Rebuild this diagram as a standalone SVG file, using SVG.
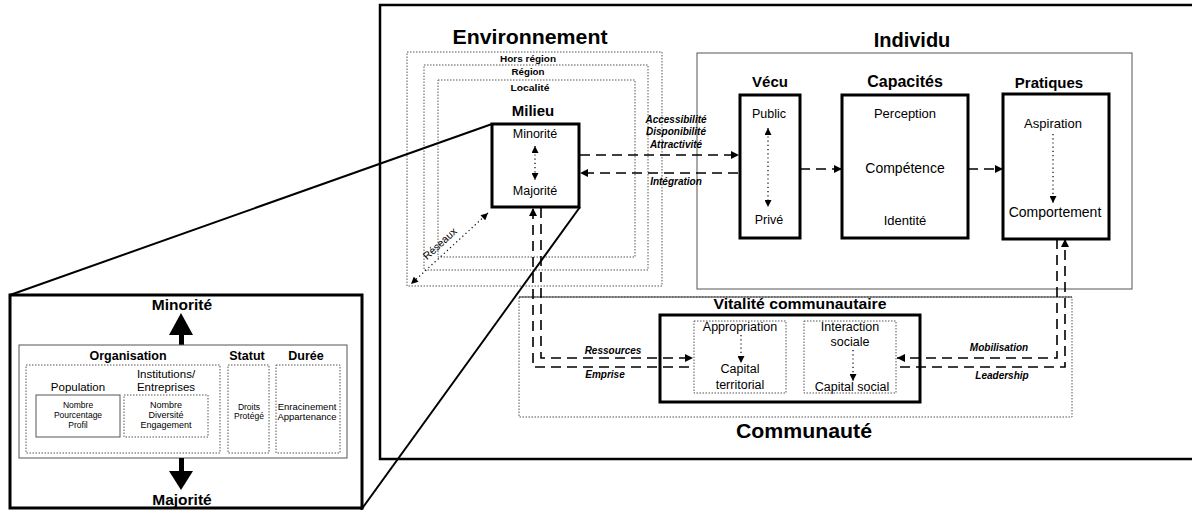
<svg xmlns="http://www.w3.org/2000/svg" width="1192" height="510" viewBox="0 0 1192 510">
<defs>
<style>
text{font-family:"Liberation Sans",Arial,sans-serif;fill:#000;text-anchor:middle}
.t20{font-size:20px;font-weight:bold}
.t15{font-size:15px;font-weight:bold}
.sm{font-size:9.5px;font-weight:bold}
.lab{font-size:10px;font-weight:bold;font-style:italic}
.r13{font-size:13px}
.r12{font-size:12.5px}
.r9{font-size:9px}
.dot{fill:none;stroke:#555;stroke-width:1;stroke-dasharray:1.5 1.5}
.thin{fill:none;stroke:#555;stroke-width:1}
.thick{fill:#fff;stroke:#000;stroke-width:3}
.dash{fill:none;stroke:#000;stroke-width:1.6;stroke-dasharray:10 6}
.dots{fill:none;stroke:#000;stroke-width:1.2;stroke-dasharray:1.2 3}
.solid{fill:none;stroke:#000;stroke-width:2}
</style>
<marker id="ah" viewBox="0 0 10 10" refX="10" refY="5" markerWidth="9" markerHeight="8" markerUnits="userSpaceOnUse" orient="auto-start-reverse"><path d="M0,0 L10,5 L0,10 z" fill="#000"/></marker>
<marker id="sh" viewBox="0 0 10 10" refX="10" refY="5" markerWidth="8" markerHeight="7" markerUnits="userSpaceOnUse" orient="auto-start-reverse"><path d="M0,0 L10,5 L0,10 z" fill="#000"/></marker>
</defs>
<rect width="1192" height="510" fill="#fff"/>

<path d="M1195,5 H380 V459 H1195" fill="none" stroke="#000" stroke-width="2.5"/>

<g id="environnement">
<text class="t20" x="530" y="44" textLength="155" lengthAdjust="spacingAndGlyphs">Environnement</text>
<rect class="dot" x="407" y="52" width="255" height="234"/>
<text class="sm" x="528" y="62" textLength="56" lengthAdjust="spacingAndGlyphs">Hors région</text>
<rect class="dot" x="424" y="65" width="224" height="205"/>
<text class="sm" x="528" y="75" textLength="33" lengthAdjust="spacingAndGlyphs">Région</text>
<rect class="dot" x="438" y="80" width="197" height="177"/>
<text class="sm" x="530" y="91" textLength="39" lengthAdjust="spacingAndGlyphs">Localité</text>
</g>

<g id="milieu">
<text class="t15" x="533" y="116">Milieu</text>
<rect class="thick" x="492" y="124" width="87" height="83"/>
<text class="r12" x="535" y="138">Minorité</text>
<text class="r12" x="535" y="195">Majorité</text>
<path class="dots" d="M535,146 V180" marker-start="url(#sh)" marker-end="url(#sh)"/>
</g>

<g id="individu">
<text class="t20" x="912" y="47">Individu</text>
<rect class="thin" x="697" y="53" width="435" height="236"/>
</g>

<g id="vecu">
<text class="t15" x="770" y="87">Vécu</text>
<rect class="thick" x="740" y="95" width="60" height="143"/>
<text class="r12" x="769" y="118">Public</text>
<path class="dots" d="M768,128 V207" marker-start="url(#sh)" marker-end="url(#sh)"/>
<text class="r12" x="769" y="224">Privé</text>
</g>

<g id="capacites">
<text class="t15" x="905" y="87" style="font-size:16px">Capacités</text>
<rect class="thick" x="842" y="95" width="126" height="143"/>
<text class="r13" x="905" y="118">Perception</text>
<text class="r13" x="905" y="173" style="font-size:14px">Compétence</text>
<text class="r13" x="905" y="225">Identité</text>
</g>

<g id="pratiques">
<text class="t15" x="1049" y="88">Pratiques</text>
<rect class="thick" x="1003" y="94" width="106" height="145"/>
<text class="r13" x="1053" y="128">Aspiration</text>
<path class="dots" d="M1053,134 V203" marker-end="url(#sh)"/>
<text class="r13" x="1055" y="217" style="font-size:14px">Comportement</text>
</g>

<g id="communaute">
<rect class="dot" x="519" y="297" width="553" height="120"/>
<path d="M519,297 H1072" stroke="#333" stroke-width="1" fill="none"/>
<text class="t15" x="800" y="309" textLength="173" lengthAdjust="spacingAndGlyphs">Vitalité communautaire</text>
<text class="t20" x="804" y="438" textLength="136" lengthAdjust="spacingAndGlyphs">Communauté</text>
</g>

<g id="vitalite">
<rect class="thick" x="660" y="315" width="260" height="87"/>
<rect class="dot" x="694" y="321" width="92" height="72"/>
<text class="r12" x="740" y="331">Appropriation</text>
<path class="dots" d="M741,335 V363" marker-end="url(#sh)"/>
<text class="r12" x="740" y="373">Capital</text>
<text class="r12" x="740" y="389">territorial</text>
<rect class="dot" x="804" y="321" width="92" height="72"/>
<text class="r12" x="850" y="331">Interaction</text>
<text class="r12" x="850" y="346">sociale</text>
<path class="dots" d="M853,350 V381" marker-end="url(#sh)"/>
<text class="r12" x="852" y="391">Capital social</text>
</g>

<g id="connecteurs">
<path class="dash" d="M580,155 H739" marker-end="url(#ah)"/>
<path class="dash" d="M738,173 H580" marker-end="url(#ah)"/>
<text class="lab" x="676" y="123">Accessibilité</text>
<text class="lab" x="676" y="135">Disponibilité</text>
<text class="lab" x="676" y="148">Attractivité</text>
<text class="lab" x="676" y="185">Intégration</text>
<path class="dash" d="M800,169 H842" marker-end="url(#ah)"/>
<path class="dash" d="M968,169 H1003" marker-end="url(#ah)"/>
<path class="dash" d="M541,208 V358 H693" marker-end="url(#ah)"/>
<path class="dash" d="M689,367 H533 V208" marker-end="url(#ah)"/>
<path class="dash" d="M1057,239 V358 H897" marker-end="url(#ah)"/>
<path class="dash" d="M900,367 H1065 V239" marker-end="url(#ah)"/>
<text class="lab" x="613" y="354">Ressources</text>
<text class="lab" x="605" y="378">Emprise</text>
<text class="lab" x="999" y="351">Mobilisation</text>
<text class="lab" x="1002" y="379">Leadership</text>
<path class="dots" d="M488,213 L411,284" marker-start="url(#sh)" marker-end="url(#sh)"/>
<text transform="translate(443,247) rotate(-42.7)" x="0" y="-1" style="font-size:10.5px">Réseaux</text>
<path class="solid" d="M10,295 L492,124"/>
<path class="solid" d="M580,207 L361,510"/>
</g>

<g id="detail-milieu">
<rect x="10" y="295" width="352" height="213" fill="none" stroke="#000" stroke-width="3"/>
<text class="t15" x="182" y="310" style="font-size:15.5px">Minorité</text>
<polygon points="181,313 169,335 193,335" fill="#000"/>
<rect x="179" y="334" width="5" height="11" fill="#000"/>
<rect class="thin" x="19" y="345" width="328" height="113"/>
<text class="t15" x="128" y="360" style="font-size:12.5px">Organisation</text>
<text class="t15" x="247" y="360" style="font-size:12.5px">Statut</text>
<text class="t15" x="306" y="360" style="font-size:12.5px">Durée</text>
<rect class="dot" x="26" y="365" width="194" height="88"/>
<rect class="dot" x="228" y="365" width="41" height="88"/>
<rect class="dot" x="276" y="365" width="64" height="88"/>
<text class="r12" x="78" y="391" style="font-size:11.5px">Population</text>
<text class="r12" x="166" y="378" style="font-size:11.5px">Institutions/</text>
<text class="r12" x="166" y="391" style="font-size:11.5px">Entreprises</text>
<rect class="thin" x="36" y="395" width="84" height="42"/>
<rect class="dot" x="124" y="395" width="84" height="42"/>
<text class="r9" x="78" y="408" style="font-size:8.5px">Nombre</text>
<text class="r9" x="78" y="418" style="font-size:8.5px">Pourcentage</text>
<text class="r9" x="78" y="428" style="font-size:8.5px">Profil</text>
<text class="r9" x="166" y="408">Nombre</text>
<text class="r9" x="166" y="418">Diversité</text>
<text class="r9" x="166" y="428">Engagement</text>
<text class="r9" x="249" y="410" style="font-size:8.5px">Droits</text>
<text class="r9" x="249" y="419" style="font-size:8.5px">Protégé</text>
<text class="r9" x="307" y="410" style="font-size:9.5px">Enracinement</text>
<text class="r9" x="307" y="420" style="font-size:9.5px">Appartenance</text>
<rect x="179" y="458" width="5" height="14" fill="#000"/>
<polygon points="169,471 193,471 181,490" fill="#000"/>
<text class="t15" x="182" y="505" style="font-size:15.5px">Majorité</text>
</g>
</svg>
